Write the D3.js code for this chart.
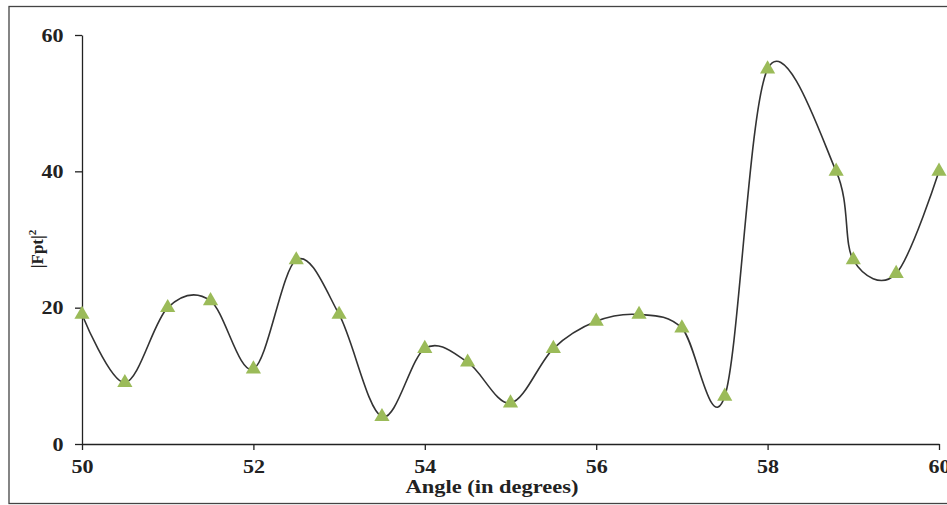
<!DOCTYPE html>
<html>
<head>
<meta charset="utf-8">
<script src="https://cdn.jsdelivr.net/npm/d3@7"></script>
<style>
  body { margin: 0; background: #fff; }
  .tick text { font-family: "Liberation Serif", serif; font-weight: bold; font-size: 19px; fill: #222; }
  .domain, .tick line { stroke: #222; stroke-width: 1.3; }
  .title { font-family: "Liberation Serif", serif; font-weight: bold; fill: #222; }
</style>
</head>
<body>
<script>
var svgWidth = 947;
var svgHeight = 505;

// angle values and |Fpt|^2
var angles = [50, 50.5, 51, 51.5, 52, 52.5, 53, 53.5, 54, 54.5, 55, 55.5, 56, 56.5, 57, 57.5, 58, 58.8, 59, 59.5, 60];
var fpt = [19, 9, 20, 21, 11, 27, 19, 4, 14, 12, 6, 14, 18, 19, 17, 7, 55, 40, 27, 25, 40];
var xTicks = [50, 52, 54, 56, 58, 60];
var yTicks = [0, 20, 40, 60];

var margin = { top: 35, right: 8, bottom: 61, left: 82 };
var width = 939 - margin.left;
var height = 444 - margin.top;

var root = d3.select("body")
  .append("svg")
  .attr("width", svgWidth)
  .attr("height", svgHeight);

// outer frame
root.append("rect")
  .attr("x", 9)
  .attr("y", 6.5)
  .attr("width", 960)
  .attr("height", 497)
  .attr("fill", "none")
  .attr("stroke", "#444")
  .attr("stroke-width", 1.3);

var svg = root.append("g")
  .attr("transform", "translate(" + margin.left + "," + margin.top + ")");

var x = d3.scaleLinear().domain([50, 60]).range([0, width]);
var y = d3.scaleLinear().domain([0, 60]).range([height, 0]);

var data = angles.map(function(a, i) { return { angle: a, value: fpt[i] }; });

// axes (labels in the original look a bit stretched sideways)
svg.append("g")
  .attr("transform", "translate(0," + height + ")")
  .call(d3.axisBottom(x).tickValues(xTicks).tickSize(6).tickSizeOuter(0).tickPadding(10))
  .selectAll("text")
  .attr("transform", "scale(1.16,1)");

svg.append("g")
  .call(d3.axisLeft(y).tickValues(yTicks).tickSize(7).tickSizeOuter(0).tickPadding(9))
  .selectAll("text")
  .attr("transform", "scale(1.16,1)");

// smooth line, like the spreadsheet "smoothed line" option
var line = d3.line()
  .x(function(d) { return x(d.angle); })
  .y(function(d) { return y(d.value); })
  .curve(d3.curveCardinal.tension(0));

svg.append("path")
  .datum(data)
  .attr("d", line)
  .attr("fill", "none")
  .attr("stroke", "#333")
  .attr("stroke-width", 1.6);

// triangle markers
svg.selectAll(".marker")
  .data(data)
  .enter()
  .append("path")
  .attr("class", "marker")
  .attr("d", d3.symbol().type(d3.symbolTriangle).size(100))
  .attr("transform", function(d) { return "translate(" + x(d.angle) + "," + y(d.value) + ")"; })
  .attr("fill", "#9BBB59");

// axis titles
root.append("text")
  .attr("class", "title")
  .attr("x", 492)
  .attr("y", 493)
  .attr("text-anchor", "middle")
  .attr("textLength", 173)
  .attr("lengthAdjust", "spacingAndGlyphs")
  .style("font-size", "19px")
  .text("Angle (in degrees)");

var yt = root.append("text")
  .attr("class", "title")
  .attr("transform", "translate(43,249) rotate(-90)")
  .attr("text-anchor", "middle")
  .style("font-size", "17px");
yt.append("tspan").text("|Fpt|");
yt.append("tspan").attr("dy", -7).style("font-size", "11px").text("2");
</script>
</body>
</html>
